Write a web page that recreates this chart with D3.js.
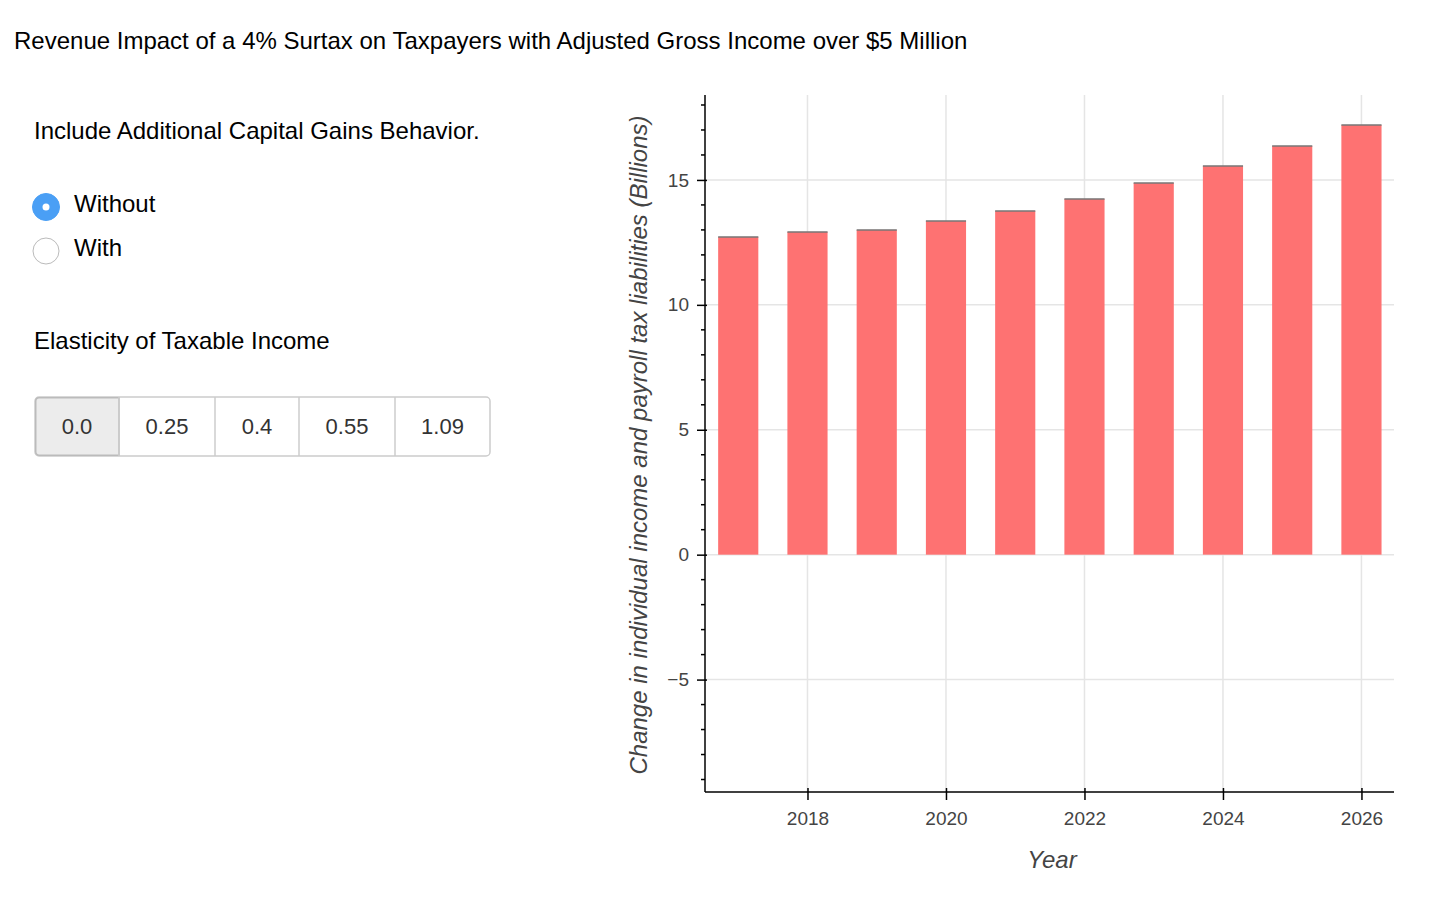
<!DOCTYPE html>
<html><head><meta charset="utf-8">
<script src="https://cdn.jsdelivr.net/npm/d3@7"></script>
<style>
body{margin:0;background:#fff;font-family:"Liberation Sans",Arial,sans-serif}
text{font-family:"Liberation Sans",Arial,sans-serif}
</style></head><body>
<svg width="1430" height="906"></svg>
<script>
const years = [2017, 2018, 2019, 2020, 2021, 2022, 2023, 2024, 2025, 2026]
const revenue = [12.72, 12.92, 13.0, 13.36, 13.76, 14.24, 14.88, 15.56, 16.36, 17.2]
const elasticities = ["0.0", "0.25", "0.4", "0.55", "1.09"]
const behaviorOptions = ["Without", "With"]
const yTicks = [-5, 0, 5, 10, 15]
const xTicks = [2018, 2020, 2022, 2024, 2026]

const svg = d3.select("svg")

svg.append("text").attr("x", 14).attr("y", 49).attr("font-size", 24).attr("fill", "#000")
    .text("Revenue Impact of a 4% Surtax on Taxpayers with Adjusted Gross Income over $5 Million")

// left widgets
svg.append("text").attr("x", 34).attr("y", 139).attr("font-size", 24).text("Include Additional Capital Gains Behavior.")
behaviorOptions.forEach((o, i) => {
    const cy = 207 + i * 44
    svg.append("circle").attr("cx", 46).attr("cy", cy).attr("r", i == 0 ? 13.5 : 13)
        .attr("fill", i == 0 ? "#4a9ff5" : "#fff").attr("stroke", i == 0 ? "#4a9ff5" : "#bbb")
    if (i == 0) svg.append("circle").attr("cx", 46).attr("cy", cy).attr("r", 3.5).attr("fill", "#fff")
    svg.append("text").attr("x", 74).attr("y", cy + 5).attr("font-size", 24).text(o)
})
svg.append("text").attr("x", 34).attr("y", 349).attr("font-size", 24).text("Elasticity of Taxable Income")

const btnEdges = [35, 119, 215, 299, 395, 490]
svg.append("rect").attr("x", 35).attr("y", 397).attr("width", 455).attr("height", 59).attr("rx", 4)
    .attr("fill", "#fff").attr("stroke", "#ccc").attr("stroke-width", 1.5)
svg.append("path").attr("d", "M39,397.75H119V455.25H39a3.25,3.25 0 0 1 -3.25,-3.25V401a3.25,3.25 0 0 1 3.25,-3.25Z")
    .attr("fill", "#ececec").attr("stroke", "#bbb").attr("stroke-width", 1.5)
elasticities.forEach((e, i) => {
    if (i > 0) svg.append("line").attr("x1", btnEdges[i]).attr("x2", btnEdges[i]).attr("y1", 397).attr("y2", 456).attr("stroke", "#ccc").attr("stroke-width", 1.5)
    svg.append("text").attr("x", (btnEdges[i] + btnEdges[i + 1]) / 2).attr("y", 434).attr("text-anchor", "middle")
        .attr("font-size", 22).attr("fill", "#333").text(e)
})

// chart
const pLeft = 705, pRight = 1394, pTop = 95, pBottom = 792
const x = d3.scaleLinear().domain([2016.52, 2026.47]).range([pLeft, pRight])
const y = d3.scaleLinear().domain([-9.5, 18.4]).range([pBottom, pTop])

const g = svg.append("g")
g.selectAll(".vg").data(xTicks).enter().append("line")
    .attr("x1", d => x(d)).attr("x2", d => x(d)).attr("y1", pTop).attr("y2", pBottom).attr("stroke", "#e5e5e5").attr("stroke-width", 1.5)
g.selectAll(".hg").data(yTicks).enter().append("line")
    .attr("x1", pLeft).attr("x2", pRight).attr("y1", d => y(d)).attr("y2", d => y(d)).attr("stroke", "#e5e5e5").attr("stroke-width", 1.5)

const bw = x(2017.29) - x(2017)
g.selectAll(".bar").data(years).enter().append("rect")
    .attr("x", d => x(d) - bw).attr("width", bw * 2)
    .attr("y", (d, i) => y(revenue[i])).attr("height", (d, i) => y(0) - y(revenue[i]))
    .attr("fill", "#fe7272")
g.selectAll(".err").data(years).enter().append("line")
    .attr("x1", d => x(d) - bw).attr("x2", d => x(d) + bw)
    .attr("y1", (d, i) => y(revenue[i])).attr("y2", (d, i) => y(revenue[i])).attr("stroke", "#777").attr("stroke-width", 1.5)

const yAxis = svg.append("g").attr("transform", `translate(${pLeft},0)`)
    .call(d3.axisLeft(y).tickValues(yTicks).tickSize(8).tickPadding(8))
yAxis.selectAll("path").attr("d", `M0,${pTop}V${pBottom}`).attr("stroke", "#000").attr("stroke-width", 1.5)
yAxis.selectAll("line").attr("stroke", "#000").attr("stroke-width", 1.5).attr("x2", -8).attr("x1", 2)
yAxis.selectAll("text").attr("font-size", 19).attr("fill", "#444")
const minor = d3.range(-9, 19).filter(v => v % 5 != 0)
yAxis.selectAll(".minor").data(minor).enter().append("line")
    .attr("x1", -4).attr("x2", 0).attr("y1", d => y(d)).attr("y2", d => y(d)).attr("stroke", "#000").attr("stroke-width", 1.5)

const xAxis = svg.append("g").attr("transform", `translate(0,${pBottom})`)
    .call(d3.axisBottom(x).tickValues(xTicks).tickFormat(d3.format("d")).tickSize(8).tickPadding(12))
xAxis.selectAll("path").attr("d", `M${pLeft},0H${pRight}`).attr("stroke", "#000").attr("stroke-width", 1.5)
xAxis.selectAll("line").attr("y1", -4).attr("stroke", "#000").attr("stroke-width", 1.5)
xAxis.selectAll("text").attr("font-size", 19).attr("fill", "#444")

svg.append("text").attr("x", 1052).attr("y", 868).attr("text-anchor", "middle").attr("font-size", 24)
    .attr("font-style", "italic").attr("fill", "#444").text("Year")
svg.append("text").attr("transform", "translate(647,445) rotate(-90)").attr("text-anchor", "middle")
    .attr("font-size", 24).attr("font-style", "italic").attr("fill", "#444")
    .text("Change in individual income and payroll tax liabilities (Billions)")
</script></body></html>
